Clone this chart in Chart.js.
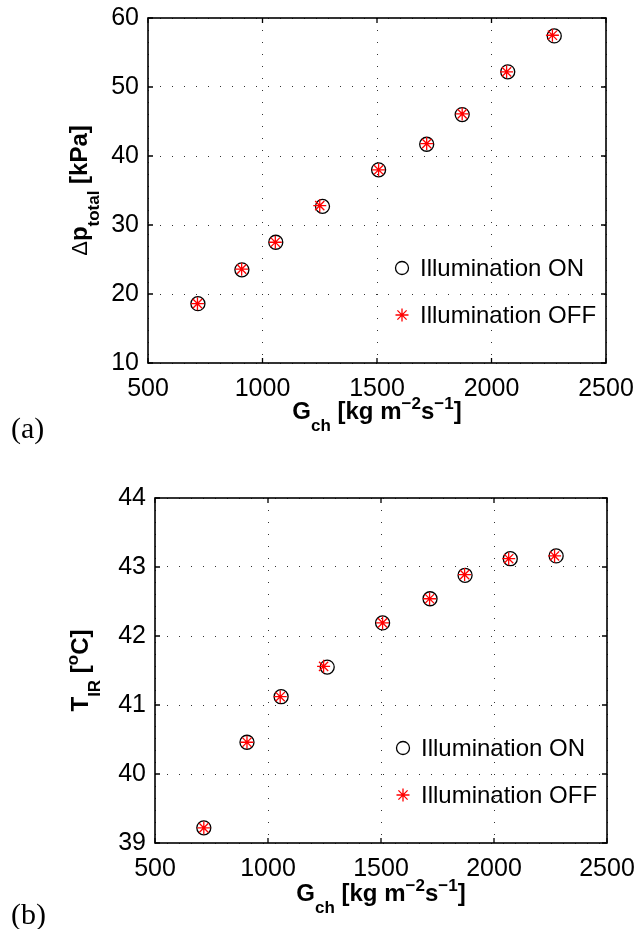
<!DOCTYPE html>
<html>
<head>
<meta charset="utf-8">
<script src="https://cdn.jsdelivr.net/npm/chart.js@4.4.0/dist/chart.umd.min.js"></script>
<style>
    html, body { margin: 0; padding: 0; background: #fff; }
    body { width: 636px; height: 929px; position: relative; overflow: hidden; }
    .panel { position: absolute; left: 0; width: 636px; }
    #panelA { top: 0; height: 450px; }
    #panelB { top: 460px; height: 469px; }
</style>
</head>
<body>
<div class="panel" id="panelA"><canvas id="dpChart" width="636" height="450"></canvas></div>
<div class="panel" id="panelB"><canvas id="tirChart" width="636" height="469"></canvas></div>
<script>
(function() {
    'use strict';

    // (a) pressure drop vs mass flux
    const gchOnA  = [718, 910, 1058, 1262, 1507, 1717, 1872, 2071, 2274];
    const dpOn    = [18.6, 23.5, 27.5, 32.7, 38.0, 41.7, 46.0, 52.2, 57.4];
    const gchOffA = [716, 909, 1056, 1250, 1507, 1717, 1872, 2066, 2266];
    const dpOff   = [18.6, 23.6, 27.5, 32.8, 38.0, 41.8, 46.1, 52.2, 57.5];

    // (b) IR temperature vs mass flux
    const gchOnB  = [716, 907, 1058, 1262, 1507, 1717, 1872, 2072, 2275];
    const tOn     = [39.22, 40.46, 41.12, 41.55, 42.19, 42.54, 42.88, 43.12, 43.16];
    const gchOffB = [716, 907, 1054, 1246, 1507, 1715, 1870, 2065, 2268];
    const tOff    = [39.22, 40.46, 41.12, 41.56, 42.19, 42.54, 42.89, 43.12, 43.16];

    const legendLabels = ['Illumination ON', 'Illumination OFF'];
    const xTickRange = [500, 2500, 500];
    const yTickRangeA = [10, 60, 10];
    const yTickRangeB = [39, 44, 1];

    const SANS = '"Liberation Sans", Arial, sans-serif';
    const SERIF = '"Liberation Serif", "Times New Roman", serif';

    document.addEventListener('DOMContentLoaded', () => {
        initCharts();
    });

    function toPoints(xs, ys) {
        return xs.map((x, i) => ({ x: x, y: ys[i] }));
    }

    // draw a run of text pieces (sub/superscripts) centred on (cx, baseY)
    function drawRich(ctx, parts, cx, baseY, angle) {
        ctx.save();
        ctx.translate(cx, baseY);
        if (angle) ctx.rotate(angle);
        let total = 0;
        parts.forEach(p => {
            ctx.font = p.font;
            total += ctx.measureText(p.text).width;
        });
        let x = -total / 2;
        ctx.fillStyle = '#000';
        ctx.textBaseline = 'alphabetic';
        ctx.textAlign = 'left';
        parts.forEach(p => {
            ctx.font = p.font;
            ctx.fillText(p.text, x, p.dy || 0);
            x += ctx.measureText(p.text).width;
        });
        ctx.restore();
    }

    // box, inward ticks, axis titles, legend and panel tag, MATLAB style
    const matlabAxes = {
        id: 'matlabAxes',
        beforeDatasetsDraw(chart) {
            const { ctx, chartArea: a, scales } = chart;
            ctx.save();
            ctx.strokeStyle = '#000';
            ctx.lineWidth = 1.3;
            ctx.beginPath();
            scales.x.ticks.forEach(t => {
                const px = scales.x.getPixelForValue(t.value);
                ctx.moveTo(px, a.bottom); ctx.lineTo(px, a.bottom - 5);
                ctx.moveTo(px, a.top); ctx.lineTo(px, a.top + 5);
            });
            scales.y.ticks.forEach(t => {
                const py = scales.y.getPixelForValue(t.value);
                ctx.moveTo(a.left, py); ctx.lineTo(a.left + 5, py);
                ctx.moveTo(a.right, py); ctx.lineTo(a.right - 5, py);
            });
            ctx.stroke();
            ctx.lineWidth = 1.6;
            ctx.strokeRect(a.left, a.top, a.right - a.left, a.bottom - a.top);
            ctx.restore();
        },
        afterDraw(chart, args, opts) {
            const { ctx, chartArea: a } = chart;
            const big = 'bold 24px ' + SANS;
            const small = 'bold 17px ' + SANS;

            // x title
            drawRich(ctx, [
                { text: 'G', font: big },
                { text: 'ch', font: small, dy: 12 },
                { text: ' [kg m', font: big },
                { text: '\u22122', font: small, dy: -10 },
                { text: 's', font: big },
                { text: '\u22121', font: small, dy: -10 },
                { text: ']', font: big }
            ], (a.left + a.right) / 2, a.bottom + opts.xTitleGap, 0);

            // y title, rotated
            drawRich(ctx, opts.yTitle(big, small), a.left - opts.yTitleGap,
                (a.top + a.bottom) / 2, -Math.PI / 2);

            // legend without frame
            const lx = a.right - 204;
            const rows = [a.bottom - 95, a.bottom - 48];
            ctx.save();
            ctx.lineWidth = 1.3;
            ctx.strokeStyle = '#000';
            ctx.beginPath();
            ctx.arc(lx, rows[0], 6.5, 0, Math.PI * 2);
            ctx.stroke();
            ctx.strokeStyle = '#ff0000';
            ctx.beginPath();
            const r = 6.5, d = r * Math.cos(Math.PI / 4);
            ctx.moveTo(lx - r, rows[1]); ctx.lineTo(lx + r, rows[1]);
            ctx.moveTo(lx, rows[1] - r); ctx.lineTo(lx, rows[1] + r);
            ctx.moveTo(lx - d, rows[1] - d); ctx.lineTo(lx + d, rows[1] + d);
            ctx.moveTo(lx - d, rows[1] + d); ctx.lineTo(lx + d, rows[1] - d);
            ctx.stroke();
            ctx.fillStyle = '#000';
            ctx.font = '24px ' + SANS;
            ctx.textBaseline = 'middle';
            ctx.textAlign = 'left';
            legendLabels.forEach((lab, i) => ctx.fillText(lab, lx + 18, rows[i] + 1));

            // panel tag
            ctx.font = '30px ' + SERIF;
            ctx.textBaseline = 'alphabetic';
            ctx.fillText(opts.tag, 11, opts.tagY);
            ctx.restore();
        }
    };

    function buildChart(canvasId, cfg) {
        const el = document.getElementById(canvasId);
        if (!el) return null;
        return new Chart(el, {
            type: 'scatter',
            data: {
                datasets: [{
                    label: legendLabels[0],
                    data: cfg.on,
                    pointStyle: 'circle',
                    pointRadius: 7,
                    pointBorderWidth: 1.3,
                    pointBorderColor: '#000',
                    pointBackgroundColor: 'rgba(0,0,0,0)',
                    order: 2
                }, {
                    label: legendLabels[1],
                    data: cfg.off,
                    pointStyle: 'star',
                    pointRadius: 6.5,
                    pointBorderWidth: 1.3,
                    pointBorderColor: '#ff0000',
                    pointBackgroundColor: '#ff0000',
                    order: 1
                }]
            },
            options: {
                responsive: false,
                devicePixelRatio: 1,
                animation: false,
                layout: {
                    padding: { top: cfg.padTop, right: cfg.padRight, left: 0, bottom: 0 }
                },
                plugins: {
                    legend: { display: false },
                    tooltip: { enabled: false },
                    matlabAxes: {
                        xTitleGap: cfg.xTitleGap,
                        yTitleGap: cfg.yTitleGap,
                        yTitle: cfg.yTitle,
                        tag: cfg.tag,
                        tagY: cfg.tagY
                    }
                },
                scales: {
                    x: {
                        type: 'linear',
                        min: xTickRange[0],
                        max: xTickRange[1],
                        afterFit: (s) => {
                            s.height = cfg.xHeight;
                            s.paddingLeft = 0;
                            s.paddingRight = 0;
                        },
                        ticks: {
                            stepSize: xTickRange[2],
                            maxRotation: 0,
                            autoSkip: false,
                            padding: 11,
                            color: '#000',
                            font: { family: SANS, size: 25 },
                            callback: (v) => String(v)
                        },
                        grid: { color: '#333', lineWidth: 1, drawTicks: false },
                        border: { display: false, dash: [1, 11] }
                    },
                    y: {
                        type: 'linear',
                        min: cfg.yRange[0],
                        max: cfg.yRange[1],
                        afterFit: (s) => {
                            s.width = cfg.yWidth;
                            s.paddingTop = 0;
                            s.paddingBottom = 0;
                        },
                        ticks: {
                            stepSize: cfg.yRange[2],
                            padding: 9,
                            color: '#000',
                            font: { family: SANS, size: 25 },
                            callback: (v) => String(v)
                        },
                        grid: { color: '#333', lineWidth: 1, drawTicks: false },
                        border: { display: false, dash: [1, 11] }
                    }
                }
            },
            plugins: [matlabAxes]
        });
    }

    function initCharts() {
        buildChart('dpChart', {
            on: toPoints(gchOnA, dpOn),
            off: toPoints(gchOffA, dpOff),
            yRange: yTickRangeA,
            padTop: 18, padRight: 30, yWidth: 148, xHeight: 87,
            xTitleGap: 56, yTitleGap: 61,
            tag: '(a)', tagY: 438,
            yTitle: (big, small) => [
                { text: '\u0394', font: '22px ' + SANS },
                { text: 'p', font: big },
                { text: 'total', font: small, dy: 12 },
                { text: ' [kPa]', font: big }
            ]
        });

        buildChart('tirChart', {
            on: toPoints(gchOnB, tOn),
            off: toPoints(gchOffB, tOff),
            yRange: yTickRangeB,
            padTop: 38, padRight: 29, yWidth: 155, xHeight: 86,
            xTitleGap: 58, yTitleGap: 67,
            tag: '(b)', tagY: 464,
            yTitle: (big, small) => [
                { text: 'T', font: big },
                { text: 'IR', font: small, dy: 12 },
                { text: ' [', font: big },
                { text: 'o', font: small, dy: -10 },
                { text: 'C]', font: big }
            ]
        });
    }

})();
</script>
</body>
</html>
